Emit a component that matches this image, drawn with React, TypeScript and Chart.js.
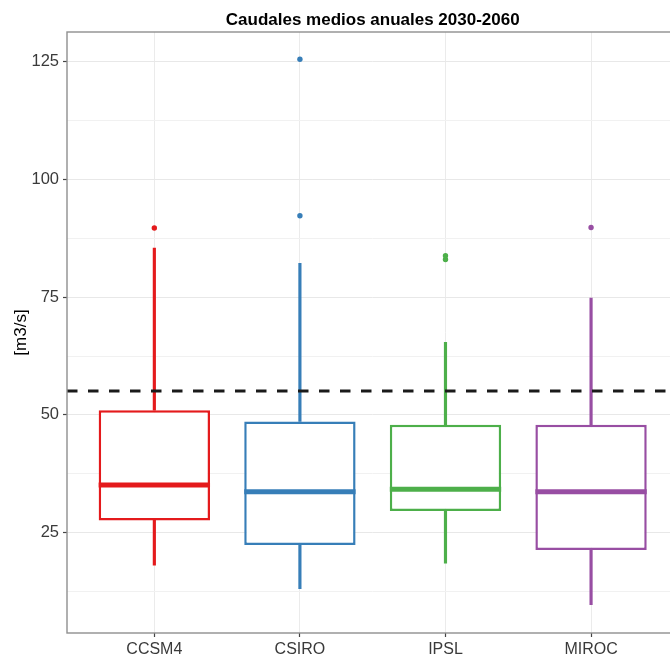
import React, { useEffect, useRef } from "react";
import { Chart, registerables } from "chart.js";

Chart.register(...registerables);

const categories = ["CCSM4", "CSIRO", "IPSL", "MIROC"];
const q1 = [27.6, 22.4, 29.6, 21.3];
const medians = [35.1, 33.7, 34.2, 33.7];
const q3 = [51.0, 48.6, 47.9, 47.9];
const whiskerLow = [18.1, 13.1, 18.5, 9.7];
const whiskerHigh = [85.4, 82.2, 65.4, 74.8];
const outliersA = [89.7, 125.5, 83.8, 89.8];
const outliersB = [null, 92.3, 83.0, null];
const referenceLine = 55.1;
const yTickValues = [12.5, 25, 37.5, 50, 62.5, 75, 87.5, 100, 112.5, 125];

const colors = ["#E41A1C", "#377EB8", "#4DAF4A", "#984EA3"];
const FONT = '"Liberation Sans", Arial, Helvetica, sans-serif';

const boxPlugin = {
  id: "boxExtras",
  afterDatasetsDraw(chart: any) {
    const { ctx, chartArea, scales } = chart;
    const y = scales.y;
    const meta = chart.getDatasetMeta(0);
    ctx.save();
    meta.data.forEach((el: any, i: number) => {
      const py = y.getPixelForValue(medians[i]);
      ctx.beginPath();
      ctx.strokeStyle = colors[i];
      ctx.lineWidth = 5;
      ctx.moveTo(el.x - el.width / 2, py);
      ctx.lineTo(el.x + el.width / 2, py);
      ctx.stroke();
    });
    const ry = y.getPixelForValue(referenceLine);
    ctx.beginPath();
    ctx.strokeStyle = "#1a1a1a";
    ctx.lineWidth = 3;
    ctx.setLineDash([10.5, 10.5]);
    ctx.moveTo(chartArea.left, ry);
    ctx.lineTo(chartArea.right, ry);
    ctx.stroke();
    ctx.setLineDash([]);
    ctx.strokeStyle = "#8f8f8f";
    ctx.lineWidth = 1.4;
    ctx.strokeRect(chartArea.left, chartArea.top, chartArea.right - chartArea.left, chartArea.bottom - chartArea.top);
    ctx.restore();
  },
  afterDraw(chart: any) {
    const { ctx, chartArea } = chart;
    ctx.save();
    ctx.fillStyle = "#000";
    ctx.font = `bold 17px ${FONT}`;
    ctx.textAlign = "center";
    ctx.textBaseline = "middle";
    ctx.fillText("Caudales medios anuales 2030-2060", (chartArea.left + chartArea.right) / 2, 20);
    ctx.translate(21, (chartArea.top + chartArea.bottom) / 2);
    ctx.rotate(-Math.PI / 2);
    ctx.font = `17px ${FONT}`;
    ctx.fillText("[m3/s]", 0, 0);
    ctx.restore();
  },
};

export default function App() {
  const ref = useRef<HTMLCanvasElement | null>(null);
  useEffect(() => {
    if (!ref.current) return;
    const xs = categories.map((_, i) => i + 1);
    const chart = new Chart(ref.current, {
      type: "bar",
      data: {
        datasets: [
          {
            type: "bar",
            data: xs.map((x, i) => ({ x, y: [q1[i], q3[i]] })) as any,
            backgroundColor: "#ffffff",
            borderColor: colors,
            borderWidth: 2.5,
            borderSkipped: false,
            grouped: false,
            categoryPercentage: 1,
            barPercentage: 0.765,
          } as any,
          {
            type: "bar",
            data: xs.map((x, i) => ({ x, y: [whiskerLow[i], q1[i]] })) as any,
            backgroundColor: colors,
            borderWidth: 0,
            grouped: false,
            barThickness: 2.5,
          } as any,
          {
            type: "bar",
            data: xs.map((x, i) => ({ x, y: [q3[i], whiskerHigh[i]] })) as any,
            backgroundColor: colors,
            borderWidth: 0,
            grouped: false,
            barThickness: 2.5,
          } as any,
          {
            type: "scatter",
            data: xs.map((x, i) => ({ x, y: outliersA[i] })) as any,
            pointBackgroundColor: colors,
            pointBorderWidth: 0,
            pointRadius: 2.7,
          } as any,
          {
            type: "scatter",
            data: xs.map((x, i) => ({ x, y: outliersB[i] })) as any,
            pointBackgroundColor: colors,
            pointBorderWidth: 0,
            pointRadius: 2.7,
          } as any,
        ],
      },
      options: {
        animation: false,
        responsive: false,
        events: [],
        layout: { padding: { top: 32, right: 11.6, left: 0, bottom: 0 } },
        plugins: { legend: { display: false }, tooltip: { enabled: false }, title: { display: false } },
        scales: {
          x: {
            type: "linear",
            min: 0.4,
            max: 4.6,
            offset: false,
            afterBuildTicks: (s: any) => {
              s.ticks = xs.map((v) => ({ value: v }));
            },
            afterFit: (s: any) => {
              s.height = 25;
            },
            ticks: {
              autoSkip: false,
              maxRotation: 0,
              padding: 3,
              color: "#3a3a3a",
              font: { family: FONT, size: 16 },
              callback: (v: any) => categories[Math.round(v) - 1] ?? "",
            },
            grid: { offset: false, color: "#ebebeb", lineWidth: 1, tickLength: 4, tickColor: "#444", tickWidth: 1.2 },
            border: { display: false },
          },
          y: {
            type: "linear",
            min: 3.7,
            max: 131.3,
            afterBuildTicks: (s: any) => {
              s.ticks = yTickValues.map((v) => ({ value: v }));
            },
            afterFit: (s: any) => {
              s.width = 67;
            },
            ticks: {
              autoSkip: false,
              padding: 4,
              color: "#3a3a3a",
              font: { family: FONT, size: 16.5 },
              callback: (v: any) => (v % 25 === 0 ? String(v) : ""),
            },
            grid: {
              color: (c: any) => (c.tick && c.tick.value % 25 === 0 ? "#e8e8e8" : "#f1f1f1"),
              lineWidth: 1,
              tickLength: 4,
              tickWidth: 1.2,
              tickColor: (c: any) => (c.tick && c.tick.value % 25 === 0 ? "#444" : "rgba(0,0,0,0)"),
            },
            border: { display: false },
          },
        },
      } as any,
      plugins: [boxPlugin],
    });
    return () => chart.destroy();
  }, []);
  return (
    <div style={{ position: "absolute", left: 0, top: 0, width: 670, height: 658, overflow: "hidden", background: "#fff" }}>
      <canvas ref={ref} width={690} height={658} style={{ display: "block" }} />
    </div>
  );
}
